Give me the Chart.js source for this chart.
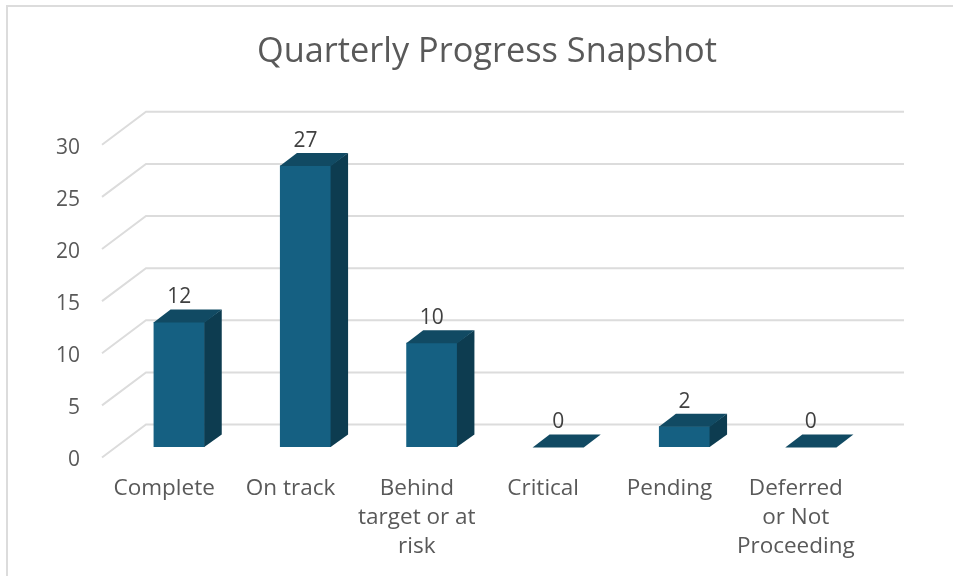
<!DOCTYPE html>
<html>
<head>
<meta charset="utf-8">
<title>Quarterly Progress Snapshot</title>
<script src="https://cdn.jsdelivr.net/npm/chart.js@4/dist/chart.umd.min.js"></script>
<style>
    html, body { margin: 0; padding: 0; background: #fff; overflow: hidden; }
    #frame {
        position: absolute; left: 6px; top: 5px; width: 1000px; height: 600px;
        border: 2px solid #dcdcdc; box-sizing: border-box;
    }
    #chart { position: absolute; left: 0; top: 0; }
</style>
</head>
<body>
<div id="frame"><canvas id="chart" width="958" height="571"></canvas></div>
<script>
const chartTitle = "Quarterly Progress Snapshot";
const categories = [
    "Complete",
    "On track",
    ["Behind", "target or at", "risk"],
    "Critical",
    "Pending",
    ["Deferred", "or Not", "Proceeding"],
];
const values = [12, 27, 10, 0, 2, 0];
const yTicks = [0, 5, 10, 15, 20, 25, 30];

const fontFamily = "'Open Sans', sans-serif";
const textColor = "#595959";
const gridColor = "#dcdcdc";
const frontColor = "#156082";
const topColor = "#114a63";
const sideColor = "#0d3c50";

// Desplazamientos de la perspectiva falsa
const wall = { dx: 44, dy: -33 };
const barShift = { dx: 14, dy: -10.5 };
const barDepth = { dx: 17, dy: -12.5 };

function face(ctx, points, color) {
    ctx.beginPath();
    points.forEach((p, i) => (i ? ctx.lineTo(p[0], p[1]) : ctx.moveTo(p[0], p[1])));
    ctx.closePath();
    ctx.fillStyle = color;
    ctx.fill();
}

const fake3d = {
    id: "fake3d",
    beforeDatasetsDraw(chart) {
        const { ctx, chartArea, scales } = chart;
        ctx.save();
        ctx.strokeStyle = gridColor;
        ctx.lineWidth = 2;
        yTicks.forEach((tick) => {
            const y = scales.y.getPixelForValue(tick);
            ctx.beginPath();
            ctx.moveTo(chartArea.left, y);
            ctx.lineTo(chartArea.left + wall.dx, y + wall.dy);
            ctx.lineTo(chartArea.right + wall.dx, y + wall.dy);
            ctx.stroke();
        });
        ctx.restore();
        // Las barras se dibujan desplazadas hacia el centro del piso
        ctx.save();
        ctx.translate(barShift.dx, barShift.dy);
    },
    afterDatasetsDraw(chart) {
        const { ctx } = chart;
        const bars = chart.getDatasetMeta(0).data;
        const { dx, dy } = barDepth;
        bars.forEach((bar) => {
            const left = bar.x - bar.width / 2;
            const right = bar.x + bar.width / 2;
            face(ctx, [[right - 0.5, bar.y], [right + dx, bar.y + dy], [right + dx, bar.base + dy], [right - 0.5, bar.base]], sideColor);
            face(ctx, [[left, bar.y + 0.5], [left + dx, bar.y + dy], [right + dx, bar.y + dy], [right, bar.y + 0.5]], topColor);
        });
        ctx.restore();

        // Etiquetas de valor sobre cada barra
        ctx.save();
        ctx.font = "21px " + fontFamily;
        ctx.fillStyle = "#404040";
        ctx.textAlign = "center";
        ctx.textBaseline = "middle";
        bars.forEach((bar, i) => {
            ctx.fillText(values[i], bar.x + barShift.dx, bar.y + barShift.dy + barDepth.dy - 12);
        });
        ctx.restore();
    },
};

new Chart(document.getElementById("chart"), {
    type: "bar",
    data: {
        labels: categories,
        datasets: [
            {
                data: values,
                backgroundColor: frontColor,
                barPercentage: 0.405,
                categoryPercentage: 1,
            },
        ],
    },
    options: {
        responsive: false,
        animation: false,
        plugins: {
            legend: { display: false },
            tooltip: { enabled: false },
            title: {
                display: true,
                text: chartTitle,
                color: textColor,
                font: { family: fontFamily, size: 34.3, weight: "normal" },
                padding: { top: 24.6, bottom: 72 },
            },
        },
        scales: {
            x: {
                grid: { display: false },
                border: { display: false },
                afterFit(scale) {
                    scale.height = 120.5;
                },
                ticks: {
                    autoSkip: false,
                    maxRotation: 0,
                    padding: 9,
                    labelOffset: -1,
                    color: textColor,
                    font: { family: fontFamily, size: 22.5, lineHeight: 1.29 },
                },
            },
            y: {
                min: 0,
                max: 30,
                grid: { display: false },
                border: { display: false },
                afterFit(scale) {
                    scale.width = 94;
                },
                afterBuildTicks(scale) {
                    scale.ticks = yTicks.map((value) => ({ value }));
                },
                ticks: {
                    padding: 14,
                    labelOffset: 3,
                    color: textColor,
                    font: { family: fontFamily, size: 21 },
                },
            },
            // Eje vacío a la derecha: reserva el margen sin descentrar el título
            spacer: {
                position: "right",
                grid: { display: false },
                border: { display: false },
                ticks: { display: false },
                afterFit(scale) {
                    scale.width = 106;
                },
            },
        },
    },
    plugins: [fake3d],
});
</script>
</body>
</html>
